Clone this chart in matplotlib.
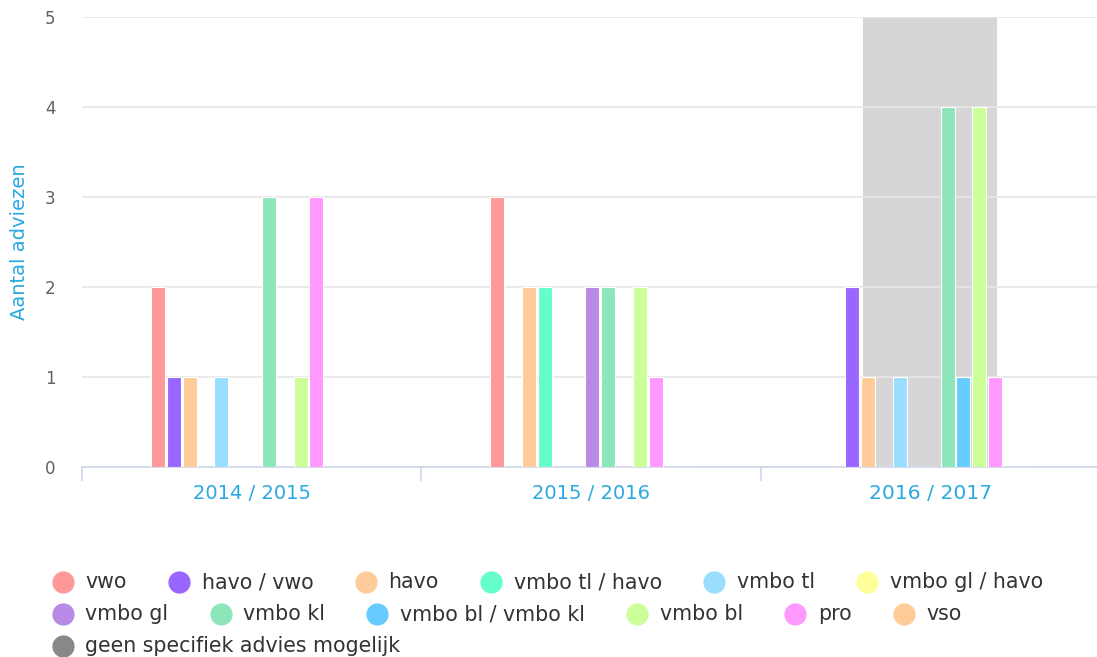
import matplotlib
matplotlib.use("Agg")
import matplotlib.pyplot as plt
from matplotlib.lines import Line2D
import numpy as np

plt.rcParams['font.family'] = ['DejaVu Sans']

categories = ["2014 / 2015", "2015 / 2016", "2016 / 2017"]
series_names = ["vwo", "havo / vwo", "havo", "vmbo tl / havo", "vmbo tl",
                "vmbo gl / havo", "vmbo gl", "vmbo kl", "vmbo bl / vmbo kl",
                "vmbo bl", "pro", "vso", "geen specifiek advies mogelijk"]
series_colors = ["#ff9999", "#9966ff", "#ffcc99", "#66ffcc", "#99ddff",
                 "#ffff99", "#b88ae6", "#8ce6b9", "#66ccff", "#ccff99",
                 "#ff99ff", "#ffcc99", "#888888"]
vwo = [2, 3, 0]
havo_vwo = [1, 0, 2]
havo = [1, 2, 1]
vmbo_tl_havo = [0, 2, 0]
vmbo_tl = [1, 0, 1]
vmbo_gl_havo = [0, 0, 0]
vmbo_gl = [0, 2, 0]
vmbo_kl = [3, 2, 4]
vmbo_bl_kl = [0, 0, 1]
vmbo_bl = [1, 2, 4]
pro = [3, 1, 1]
vso = [0, 0, 0]
geen = [0, 0, 0]
series_values = [vwo, havo_vwo, havo, vmbo_tl_havo, vmbo_tl, vmbo_gl_havo,
                 vmbo_gl, vmbo_kl, vmbo_bl_kl, vmbo_bl, pro, vso, geen]
highlight_category = 2
yticks = [0, 1, 2, 3, 4, 5]

W, H = 1097, 657
fig = plt.figure(figsize=(W / 100, H / 100), dpi=100)
ax = fig.add_axes([82 / W, 1 - 467 / H, (1100 - 82) / W, 450 / H])

x = np.arange(len(categories))
n = len(series_names)
slot = 0.0467
bw = 0.0413
group_shift = 0.004

# highlighted band
ax.axvspan(highlight_category - 0.199, highlight_category + 0.197, color="#d6d6d6", zorder=0.5, lw=0)

for i, (name, vals, col) in enumerate(zip(series_names, series_values, series_colors)):
    offs = (i - (n - 1) / 2) * slot + group_shift
    ax.bar(x + offs, vals, width=bw, color=col, edgecolor="white", linewidth=0.8, zorder=3)

ax.set_xlim(-0.5, len(categories) - 0.5)
ax.set_ylim(0, 5)
ax.set_yticks(yticks)
ax.set_yticklabels([str(v) for v in yticks], fontsize=12, color="#606060")
ax.tick_params(axis="y", length=0, pad=19)
ax.yaxis.grid(True, color="#e6e6e6", linewidth=1.2, zorder=1)
ax.set_axisbelow(True)

ax.set_xticks(x)
ax.set_xticklabels([])
ax.set_xticks(np.arange(len(categories) + 1) - 0.5, minor=True)
ax.tick_params(axis="x", which="major", length=0)
ax.tick_params(axis="x", which="minor", length=10, color="#ccd6eb", width=1.2)
for i, c in enumerate(categories):
    big = (i == highlight_category)
    ax.text(x[i], -0.29, c, ha="center", va="center", fontsize=14.6 if big else 14,
            color="#29a9df", transform=ax.transData)

for s in ["top", "right", "left"]:
    ax.spines[s].set_visible(False)
ax.spines["bottom"].set_color("#ccd6eb")
ax.spines["bottom"].set_linewidth(1.2)

fig.text(20 / W, 1 - 242 / H, "Aantal adviezen", rotation=90, ha="center", va="center",
         fontsize=14, color="#29a9df")

# legend with flow layout
fig.canvas.draw()
renderer = fig.canvas.get_renderer()
row_breaks = [6, 12]
row_y = [582, 614, 646]
start_x = 52
xpos = start_x
row = 0
for i, (name, col) in enumerate(zip(series_names, series_colors)):
    if i in row_breaks:
        row += 1
        xpos = start_x
    yc = row_y[row]
    fig.add_artist(Line2D([(xpos + 10.5) / W], [1 - yc / H], marker="o", markersize=15,
                          markerfacecolor=col, markeredgecolor=col, linestyle="none",
                          transform=fig.transFigure))
    t = fig.text((xpos + 33) / W, 1 - yc / H, name, ha="left", va="center",
                 fontsize=14.8, color="#333333")
    bb = t.get_window_extent(renderer)
    xpos = xpos + 33 + bb.width + 42

fig.savefig("out.png", dpi=100)
